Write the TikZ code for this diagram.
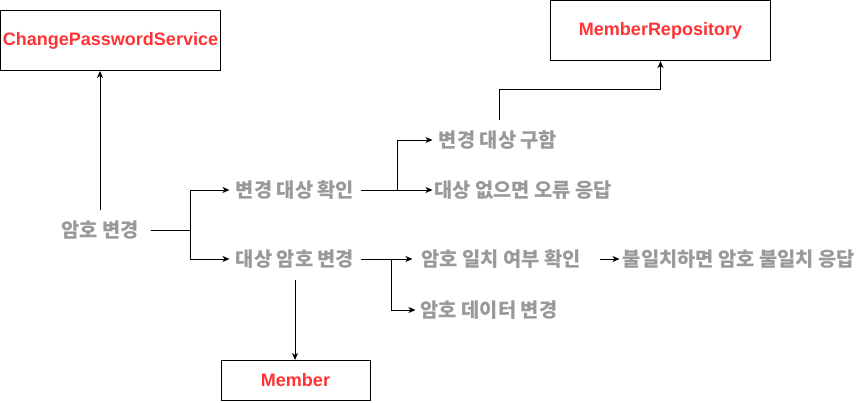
\documentclass[tikz,border=0pt]{standalone}
\usepackage{fontspec}
\setmainfont{Liberation Sans}
\newfontfamily\krfont{Noto Sans CJK KR}
\usetikzlibrary{arrows.meta}
\definecolor{boxred}{HTML}{FF3333}
\definecolor{txtgray}{HTML}{999999}
\tikzset{
  every picture/.style={line width=1pt},
  cls/.style={draw=black, line width=1pt, fill=white, inner sep=0pt, text=boxred,
    font=\fontsize{18}{21}\selectfont\bfseries},
  task/.style={inner sep=0pt, minimum height=40pt, text=txtgray,
    font=\krfont\fontsize{19.8}{23}\selectfont\bfseries},
  link/.style={draw=black, line width=1pt, -{Stealth[length=7pt,width=6pt,inset=2pt]}},
}
\begin{document}
\begin{tikzpicture}[x=1pt,y=-1pt]
\useasboundingbox (0,0) rectangle (861,402);
% class boxes
\node[cls, minimum width=220pt, minimum height=60pt] (svc) at (110.5,40.5) {ChangePasswordService};
\node[cls, minimum width=220pt, minimum height=60pt] (repo) at (660.5,30.5) {MemberRepository};
\node[cls, minimum width=149pt, minimum height=40pt] (member) at (295.5,380.5) {Member};
% tasks
\node[task, minimum width=100pt] (chg) at (100,230) {암호 변경};
\node[task, minimum width=130pt] (find) at (295,190) {변경 대상 확인};
\node[task, minimum width=130pt] (pw) at (295,259) {대상 암호 변경};
\node[task, minimum width=130pt] (get) at (498,140) {변경 대상 구함};
\node[task, minimum width=180pt] (none) at (523,190) {대상 없으면 오류 응답};
\node[task, minimum width=176pt] (match) at (501,259) {암호 일치 여부 확인};
\node[task, minimum width=238pt] (mis) at (739,259) {불일치하면 암호 불일치 응답};
\node[task, minimum width=146pt] (upd) at (489,310) {암호 데이터 변경};
% connectors
\draw[link] (chg.north) -- (chg.north |- svc.south);
\draw[link] (chg.east) -- ++(40,0) |- (find.west);
\draw[link] (chg.east) -- ++(40,0) |- (pw.west);
\draw[link] (find.east) -- ++(37,0) |- (get.west);
\draw[link] (find.east) -- (none.west);
\draw[link] ([xshift=1pt]get.north) -- ++(0,-30) -| (repo.south);
\draw[link] (pw.east) -- (match.west);
\draw[link] (pw.east) -- ++(31,0) |- (upd.west);
\draw[link] ([xshift=10pt]match.east) -- (mis.west);
\draw[link] (pw.south) -- (pw.south |- member.north);
\end{tikzpicture}
\end{document}
